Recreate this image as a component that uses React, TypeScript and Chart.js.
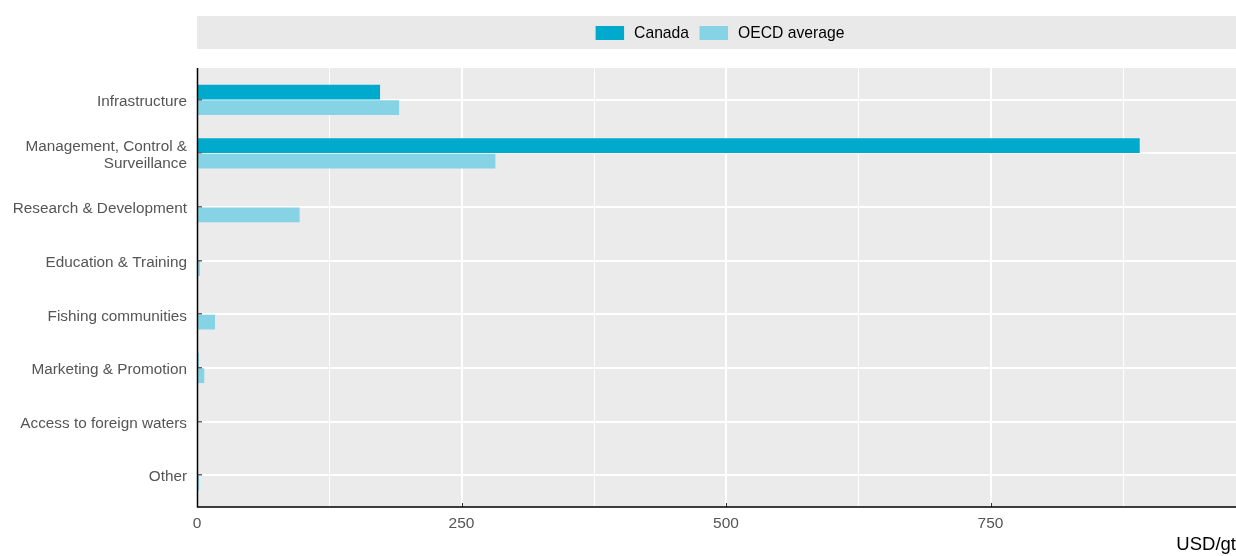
import React, { useEffect, useRef } from "react";
import { Chart, registerables } from "chart.js";

Chart.register(...registerables);

const categories: (string | string[])[] = [
  "Infrastructure",
  ["Management, Control &", "Surveillance"],
  "Research & Development",
  "Education & Training",
  "Fishing communities",
  "Marketing & Promotion",
  "Access to foreign waters",
  "Other",
];
const canadaValues = [173, 891, 0, 0, 0, 1.3, 0, 0];
const oecdValues = [191, 282, 97, 2.8, 17, 6.9, 0, 2];
const xTickValues = [0, 250, 500, 750];
const xMinorValues = [125, 375, 625, 875];
const seriesNames = ["Canada", "OECD average"];
const seriesColors = ["#00AACC", "#85D3E4"];
const unitLabel = "USD/gt";

const FONT = "'Liberation Sans', Arial, sans-serif";

const decorPlugin = {
  id: "decor",
  beforeDatasetsDraw(chart: any) {
    const { ctx, chartArea } = chart;
    const xs = chart.scales.x;
    const ys = chart.scales.y;
    const top = chartArea.top - 5;
    const bottom = chartArea.bottom + 5;
    ctx.save();
    ctx.fillStyle = "#EBEBEB";
    ctx.fillRect(chartArea.left, top, chartArea.right - chartArea.left, bottom - top);
    ctx.strokeStyle = "#FFFFFF";
    ctx.lineWidth = 1;
    xMinorValues.forEach((v) => {
      const x = Math.round(xs.getPixelForValue(v)) + 0.5;
      ctx.beginPath();
      ctx.moveTo(x, top);
      ctx.lineTo(x, bottom);
      ctx.stroke();
    });
    ctx.lineWidth = 2;
    xTickValues.forEach((v) => {
      const x = Math.round(xs.getPixelForValue(v));
      ctx.beginPath();
      ctx.moveTo(x, top);
      ctx.lineTo(x, bottom);
      ctx.stroke();
    });
    categories.forEach((_, i) => {
      const y = Math.round(ys.getPixelForValue(i));
      ctx.beginPath();
      ctx.moveTo(chartArea.left, y);
      ctx.lineTo(chartArea.right, y);
      ctx.stroke();
    });
    ctx.restore();
  },
  afterDatasetsDraw(chart: any) {
    const { ctx, chartArea } = chart;
    const xs = chart.scales.x;
    const ys = chart.scales.y;
    const top = chartArea.top - 5;
    const bottom = chartArea.bottom + 5;
    ctx.save();
    // y ticks
    ctx.strokeStyle = "#666666";
    ctx.lineWidth = 1.5;
    categories.forEach((_, i) => {
      const y = Math.round(ys.getPixelForValue(i)) - 0.25;
      ctx.beginPath();
      ctx.moveTo(chartArea.left, y);
      ctx.lineTo(chartArea.left + 5, y);
      ctx.stroke();
    });
    // x ticks
    ctx.strokeStyle = "#333333";
    ctx.lineWidth = 1;
    xTickValues.forEach((v) => {
      const x = Math.round(xs.getPixelForValue(v)) + 0.5;
      ctx.beginPath();
      ctx.moveTo(x, bottom - 4);
      ctx.lineTo(x, bottom);
      ctx.stroke();
    });
    // axis lines
    ctx.strokeStyle = "#000000";
    ctx.lineWidth = 1.5;
    ctx.beginPath();
    ctx.moveTo(chartArea.left + 0.5, top);
    ctx.lineTo(chartArea.left + 0.5, bottom);
    ctx.lineTo(chartArea.right, bottom);
    ctx.stroke();

    // legend
    const lgTop = 16;
    const lgBottom = 49;
    ctx.fillStyle = "#E9E9E9";
    ctx.fillRect(chartArea.left, lgTop, chartArea.right - chartArea.left, lgBottom - lgTop);
    ctx.font = `15.7px ${FONT}`;
    ctx.textBaseline = "middle";
    const boxW = 28.5;
    const boxH = 14;
    const gapText = 10;
    const gapItem = 10.5;
    const widths = seriesNames.map((n) => ctx.measureText(n).width);
    let total = 0;
    widths.forEach((w, i) => {
      total += boxW + gapText + w + (i < widths.length - 1 ? gapItem : 0);
    });
    let x = (chartArea.left + chartArea.right) / 2 + 3.5 - total / 2;
    const cy = 33;
    seriesNames.forEach((n, i) => {
      ctx.fillStyle = seriesColors[i];
      ctx.fillRect(x, cy - boxH / 2, boxW, boxH);
      x += boxW + gapText;
      ctx.fillStyle = "#000000";
      ctx.textAlign = "left";
      ctx.fillText(n, x, cy + 0.5);
      x += widths[i] + gapItem;
    });
    ctx.restore();
  },
};

export default function App() {
  const ref = useRef<HTMLCanvasElement | null>(null);
  useEffect(() => {
    document.body.style.margin = "0";
    if (!ref.current) return;
    Chart.defaults.font.family = FONT;
    const chart = new Chart(ref.current, {
      type: "bar",
      data: {
        labels: categories as any,
        datasets: [
          {
            label: seriesNames[0],
            data: canadaValues,
            backgroundColor: seriesColors[0],
            categoryPercentage: 0.58,
            barPercentage: 0.95,
          },
          {
            label: seriesNames[1],
            data: oecdValues,
            backgroundColor: seriesColors[1],
            categoryPercentage: 0.58,
            barPercentage: 0.95,
          },
        ],
      },
      options: {
        indexAxis: "y",
        responsive: false,
        animation: false,
        layout: { padding: { top: 73, left: 0, right: 0, bottom: 0 } },
        plugins: {
          legend: { display: false },
          title: { display: false },
          tooltip: { enabled: false },
        },
        scales: {
          x: {
            type: "linear",
            min: 0,
            max: 982,
            afterBuildTicks: (scale: any) => {
              scale.ticks = xTickValues.map((v) => ({ value: v }));
            },
            ticks: {
              color: "#555555",
              font: { size: 15.5 },
              padding: 12,
              maxRotation: 0,
            },
            grid: { display: false, drawTicks: false },
            border: { display: false },
            title: {
              display: true,
              text: unitLabel,
              align: "end",
              color: "#000000",
              font: { size: 18.5 },
              padding: { top: 2, bottom: 0 },
            },
            afterFit: (scale: any) => {
              scale.height = 54;
            },
          },
          y: {
            type: "category",
            offset: true,
            ticks: {
              color: "#555555",
              font: { size: 15.3, lineHeight: 1.11 },
              padding: 10,
              labelOffset: 2,
              autoSkip: false,
            },
            grid: { display: false, drawTicks: false },
            border: { display: false },
            afterFit: (scale: any) => {
              scale.width = 197;
            },
          },
        },
      },
      plugins: [decorPlugin],
    } as any);
    return () => chart.destroy();
  }, []);
  return (
    <div style={{ width: 1236, height: 556 }}>
      <canvas ref={ref} width={1236} height={556} />
    </div>
  );
}
